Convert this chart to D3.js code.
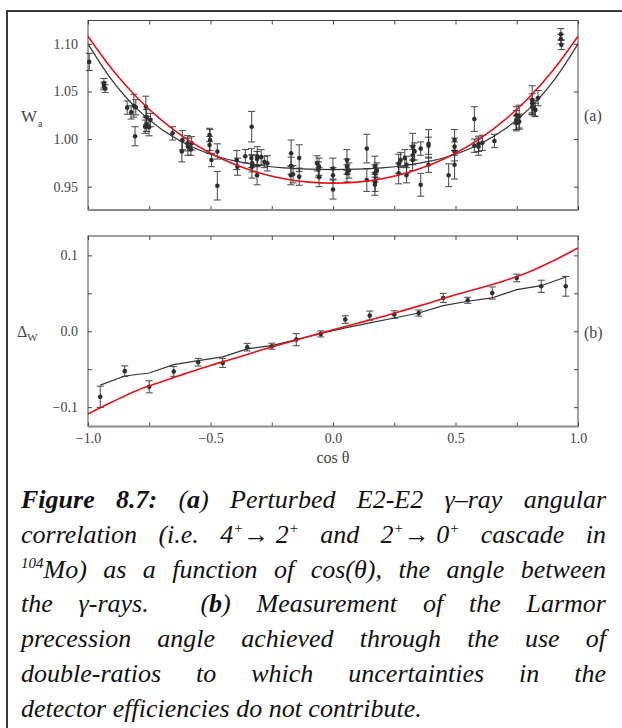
<!DOCTYPE html>
<html>
<head>
<meta charset="utf-8">
<script src="https://cdn.jsdelivr.net/npm/d3@7"></script>
<style>
body { margin: 0; background: #fff; }
svg { display: block; }
</style>
</head>
<body>
<script>
// ---- data ----
// fit curves, sampled on cos(theta) = -1 .. 1 in steps of 0.1
var cosGrid = [-1, -0.9, -0.8, -0.7, -0.6, -0.5, -0.4, -0.3, -0.2, -0.1, 0,
               0.1, 0.2, 0.3, 0.4, 0.5, 0.6, 0.7, 0.8, 0.9, 1];
var wRed   = [1.108, 1.0728, 1.0437, 1.0198, 1.0004, 0.9851, 0.9732, 0.9644, 0.9583, 0.9548, 0.9536,
              0.9548, 0.9583, 0.9644, 0.9732, 0.9851, 1.0004, 1.0198, 1.0437, 1.0728, 1.108];
var wBlack = [1.1, 1.0611, 1.0317, 1.0102, 0.9948, 0.9841, 0.977, 0.9725, 0.9698, 0.9685, 0.968,
              0.9685, 0.9698, 0.9725, 0.977, 0.9841, 0.9948, 1.0102, 1.0317, 1.0611, 1.1];
var dRed   = [-0.109, -0.093, -0.078, -0.0665, -0.0555, -0.045, -0.0355, -0.0255, -0.016, -0.007, 0.002,
              0.0105, 0.019, 0.0285, 0.038, 0.048, 0.057, 0.0665, 0.078, 0.093, 0.1096];

// panel (a): measured W(theta)
var wX = [-0.995,-0.935,-0.935,-0.93,-0.84,-0.824,-0.813,-0.805,-0.808,-0.764,-0.761,-0.761,-0.751,-0.767,-0.745,
          -0.655,-0.615,-0.617,-0.594,-0.592,-0.58,-0.577,-0.504,-0.502,-0.504,-0.496,-0.472,-0.472,
          -0.393,-0.39,-0.358,-0.332,-0.333,-0.33,-0.331,-0.309,-0.31,-0.31,-0.293,-0.28,-0.268,
          -0.171,-0.171,-0.172,-0.163,-0.138,-0.138,-0.065,-0.057,-0.057,-0.06,0,0,0,
          0.057,0.057,0.057,0.065,0.138,0.138,0.171,0.171,0.172,0.171,0.179,
          0.268,0.268,0.276,0.293,0.3,0.3,0.325,0.325,0.325,0.333,0.358,0.358,0.39,0.39,0.39,
          0.472,0.496,0.496,0.496,0.496,0.577,0.577,0.594,0.594,0.61,0.659,
          0.748,0.748,0.748,0.76,0.76,0.813,0.813,0.813,0.82,0.826,0.837,0.93,0.93,0.932];
var wY = [1.081,1.0586,1.0558,1.053,1.033,1.028,1.035,1.0334,1.003,1.034,1.023,1.016,1.0124,1.013,1.02,
          1.006,0.999,0.987,0.9956,0.992,0.989,0.9955,1.0043,0.999,0.9938,0.978,0.987,0.951,
          0.978,0.971,0.982,1.013,0.98,0.9745,0.971,0.982,0.979,0.962,0.981,0.976,0.9745,
          0.985,0.972,0.962,0.963,0.98,0.9605,0.9745,0.971,0.96,0.968,0.969,0.962,0.947,
          0.978,0.971,0.964,0.967,0.99,0.957,0.971,0.964,0.955,0.952,0.967,
          0.974,0.964,0.978,0.98,0.973,0.962,0.992,0.983,0.978,0.987,0.99,0.952,0.995,0.993,0.973,
          0.962,0.999,0.992,0.987,0.973,1.021,0.993,0.995,0.992,0.996,0.998,
          1.025,1.02,1.0166,1.0236,1.0183,1.041,1.0376,1.034,1.0324,1.0306,1.043,1.11,1.105,1.099];
var wErr = [0.009,0.005,0.004,0.004,0.007,0.007,0.012,0.008,0.01,0.011,0.008,0.008,0.009,0.007,0.007,
            0.007,0.01,0.011,0.008,0.009,0.006,0.007,0.007,0.011,0.009,0.007,0.008,0.015,
            0.01,0.009,0.007,0.016,0.01,0.009,0.012,0.01,0.008,0.01,0.008,0.006,0.008,
            0.014,0.009,0.01,0.009,0.014,0.009,0.008,0.009,0.01,0.008,0.011,0.008,0.01,
            0.011,0.008,0.009,0.008,0.015,0.012,0.011,0.009,0.01,0.011,0.008,
            0.01,0.011,0.008,0.009,0.009,0.008,0.014,0.01,0.011,0.009,0.007,0.012,0.015,0.009,0.008,
            0.012,0.011,0.009,0.01,0.015,0.013,0.007,0.008,0.009,0.008,0.007,
            0.009,0.01,0.008,0.012,0.008,0.015,0.01,0.008,0.008,0.007,0.008,0.006,0.005,0.005];

// panel (b): double ratios
var dX   = [-0.95,-0.85,-0.75,-0.65,-0.55,-0.45,-0.35,-0.25,-0.15,-0.05,
            0.05,0.15,0.25,0.35,0.45,0.55,0.65,0.75,0.85,0.95];
var dY   = [-0.0864,-0.0526,-0.0732,-0.053,-0.0408,-0.0417,-0.021,-0.0197,-0.011,-0.0035,
            0.0154,0.0206,0.022,0.024,0.0439,0.0408,0.0504,0.0702,0.0592,0.0592];
var dErr = [0.014,0.007,0.008,0.0065,0.005,0.006,0.005,0.004,0.008,0.004,
            0.005,0.006,0.005,0.004,0.006,0.004,0.008,0.005,0.008,0.013];
var dBlack = [-0.071,-0.059,-0.055,-0.044,-0.0386,-0.0338,-0.0232,-0.019,-0.011,-0.003,
              0.0044,0.011,0.0175,0.024,0.0338,0.0395,0.0439,0.0548,0.06,0.0715];

// ticks
var xTicks = [-1, -0.75, -0.5, -0.25, 0, 0.25, 0.5, 0.75, 1];
var xTickLabels = [-1, -0.5, 0, 0.5, 1];
var wTicks = [0.95, 1.0, 1.05, 1.10];
var dTicks = [-0.1, -0.05, 0, 0.05, 0.1];
var dTickLabels = [-0.1, 0, 0.1];

// caption: **bold**, ^superscript^, ~upright~ ; \u00a0 keeps a group together
var caption = [
  "**Figure** **8.7:** (**a**) Perturbed E2-E2 γ–ray angular",
  "correlation (i.e. 4^+^~→~\u00a02^+^ and 2^+^~→~\u00a00^+^ cascade in",
  "^104^Mo) as a function of cos(θ), the angle between",
  "the γ-rays.  (**b**) Measurement of the Larmor",
  "precession angle achieved through the use of",
  "double-ratios to which uncertainties in the",
  "detector efficiencies do not contribute."
];

var width = 622, height = 728;
var serif = "'Liberation Serif', 'Times New Roman', serif";

var svg = d3.select("body").append("svg")
  .attr("width", width)
  .attr("height", height);

// outer box of the figure page
svg.append("rect")
  .attr("x", 7).attr("y", 11)
  .attr("width", 700).attr("height", 800)
  .attr("fill", "none")
  .attr("stroke", "#3a3a3a")
  .attr("stroke-width", 2);

var x = d3.scaleLinear().domain([-1, 1]).range([88, 578]);
var yA = d3.scaleLinear().domain([0.9255, 1.1245]).range([210, 20.5]);
var yB = d3.scaleLinear().domain([-0.1255, 0.1255]).range([426.5, 236]);

function frame(y, yTickVals, yFmt, xFmt) {
  var top = y.range()[1], bot = y.range()[0];
  var g = svg.append("g");

  var ax = [
    d3.axisBottom(x).tickValues(xTicks).tickSizeInner(-4).tickSizeOuter(0).tickPadding(7).tickFormat(xFmt),
    d3.axisTop(x).tickValues(xTicks).tickSizeInner(-4).tickSizeOuter(0).tickFormat(""),
    d3.axisLeft(y).tickValues(yTickVals).tickSizeInner(-4).tickSizeOuter(0).tickPadding(10).tickFormat(yFmt),
    d3.axisRight(y).tickValues(yTickVals).tickSizeInner(-4).tickSizeOuter(0).tickFormat("")
  ];
  var tr = ["translate(0," + bot + ")", "translate(0," + top + ")",
            "translate(" + x(-1) + ",0)", "translate(" + x(1) + ",0)"];
  ax.forEach(function(a, i) {
    var ga = g.append("g").attr("transform", tr[i]).call(a);
    ga.select(".domain").remove();
    ga.selectAll("line").attr("stroke", "#444");
    ga.selectAll("text")
      .attr("font-family", serif)
      .attr("font-size", 14)
      .attr("fill", "#444");
  });

  g.append("rect")
    .attr("x", x(-1)).attr("y", top)
    .attr("width", x(1) - x(-1)).attr("height", bot - top)
    .attr("fill", "none").attr("stroke", "#444").attr("stroke-width", 1);
  g.append("line")
    .attr("x1", x(-1)).attr("x2", x(1))
    .attr("y1", bot).attr("y2", bot)
    .attr("stroke", "#8a8a8a").attr("stroke-width", 2);
}

var fmt2 = d3.format(".2f"), fmt1 = d3.format(".1f");
frame(yA, wTicks, fmt2, "");
frame(yB, dTicks, function(d) {
  return dTickLabels.some(function(v) { return Math.abs(v - d) < 1e-9; }) ? fmt1(d) : "";
}, function(d) {
  return xTickLabels.some(function(v) { return Math.abs(v - d) < 1e-9; }) ? fmt1(d) : "";
});

function errorBars(xs, ys, es, y) {
  var g = svg.append("g");
  var idx = d3.range(xs.length);
  var bars = g.selectAll("g.eb").data(idx).enter().append("g")
    .attr("stroke", "#2a2a2a").attr("stroke-width", 1.1).attr("opacity", 0.8);
  bars.append("line")
    .attr("x1", function(i) { return x(xs[i]); }).attr("x2", function(i) { return x(xs[i]); })
    .attr("y1", function(i) { return y(ys[i] - es[i]); }).attr("y2", function(i) { return y(ys[i] + es[i]); });
  [-1, 1].forEach(function(s) {
    bars.append("line")
      .attr("x1", function(i) { return x(xs[i]) - 3.5; }).attr("x2", function(i) { return x(xs[i]) + 3.5; })
      .attr("y1", function(i) { return y(ys[i] + s * es[i]); }).attr("y2", function(i) { return y(ys[i] + s * es[i]); });
  });
  g.selectAll("circle").data(idx).enter().append("circle")
    .attr("cx", function(i) { return x(xs[i]); })
    .attr("cy", function(i) { return y(ys[i]); })
    .attr("r", 2.3)
    .attr("fill", "#2e2e2e");
}

function curve(xs, ys, y, color, w, smooth) {
  var line = d3.line()
    .x(function(d) { return x(d[0]); })
    .y(function(d) { return y(d[1]); })
    .curve(smooth ? d3.curveCatmullRom : d3.curveLinear);
  svg.append("path")
    .datum(d3.zip(xs, ys))
    .attr("d", line)
    .attr("fill", "none")
    .attr("stroke", color)
    .attr("stroke-width", w);
}

errorBars(wX, wY, wErr, yA);
curve(cosGrid, wBlack, yA, "#333", 1.2, true);
curve(cosGrid, wRed, yA, "#e3131b", 1.6, true);

errorBars(dX, dY, dErr, yB);
curve(dX, dBlack, yB, "#333", 1.2, false);
curve(cosGrid, dRed, yB, "#e3131b", 1.6, true);

// axis titles and panel tags
var ta = svg.append("text").attr("x", 21).attr("y", 122)
  .attr("font-family", serif).attr("font-size", 17).attr("fill", "#444");
ta.append("tspan").text("W");
ta.append("tspan").attr("font-size", 10).attr("dy", 5).attr("dx", 1).text("a");

var tb = svg.append("text").attr("x", 17).attr("y", 337)
  .attr("font-family", serif).attr("font-size", 16).attr("fill", "#444");
tb.append("tspan").text("Δ");
tb.append("tspan").attr("font-size", 11).attr("dy", 4).text("W");

svg.append("text").attr("x", 584).attr("y", 121)
  .attr("font-family", serif).attr("font-size", 16).attr("fill", "#444").text("(a)");
svg.append("text").attr("x", 584).attr("y", 338)
  .attr("font-family", serif).attr("font-size", 16).attr("fill", "#444").text("(b)");

svg.append("text").attr("x", x(0)).attr("y", 463)
  .attr("text-anchor", "middle")
  .attr("font-family", serif).attr("font-size", 16).attr("fill", "#444").text("cos θ");

// caption, justified between capLeft and capRight
var capLeft = 21, capRight = 606, capTop = 508, capStep = 34.8, capSize = 26;

function addWord(parent, word) {
  var t = parent.append("text")
    .attr("font-family", serif)
    .attr("font-size", capSize)
    .attr("font-style", "italic")
    .attr("fill", "#111");
  var parts = word.match(/(\*\*[^*]+\*\*|\^[^^]+\^|~[^~]+~|[^*^~]+)/g) || [];
  var raised = false;
  parts.forEach(function(p) {
    var ts = t.append("tspan");
    if (p.indexOf("**") === 0) {
      ts.text(p.slice(2, -2)).attr("font-weight", "bold");
    } else if (p[0] === "^") {
      ts.text(p.slice(1, -1)).attr("font-size", 15);
      if (!raised) ts.attr("dy", -10);
      raised = true;
      return;
    } else if (p[0] === "~") {
      ts.text(p.slice(1, -1)).attr("font-style", "normal");
    } else {
      ts.text(p);
    }
    if (raised) { ts.attr("dy", 10); raised = false; }
  });
  return t;
}

caption.forEach(function(str, li) {
  var g = svg.append("g");
  var tokens = str.split(" ");
  var words = [], gaps = [], pending = 0;
  tokens.forEach(function(tok) {
    if (tok === "") { pending += 1; return; }
    if (words.length) gaps.push(1 + pending);
    pending = 0;
    words.push(tok);
  });
  var els = words.map(function(w) { return addWord(g, w); });
  var widths = els.map(function(e) { return e.node().getComputedTextLength(); });
  var total = d3.sum(widths), wsum = d3.sum(gaps);
  var last = li === caption.length - 1;
  var unit = last ? capSize * 0.25 : (capRight - capLeft - total) / wsum;
  var cx = capLeft, y = capTop + li * capStep;
  els.forEach(function(e, i) {
    e.attr("x", cx).attr("y", y);
    cx += widths[i] + (i < gaps.length ? gaps[i] * unit : 0);
  });
});
</script>
</body>
</html>
